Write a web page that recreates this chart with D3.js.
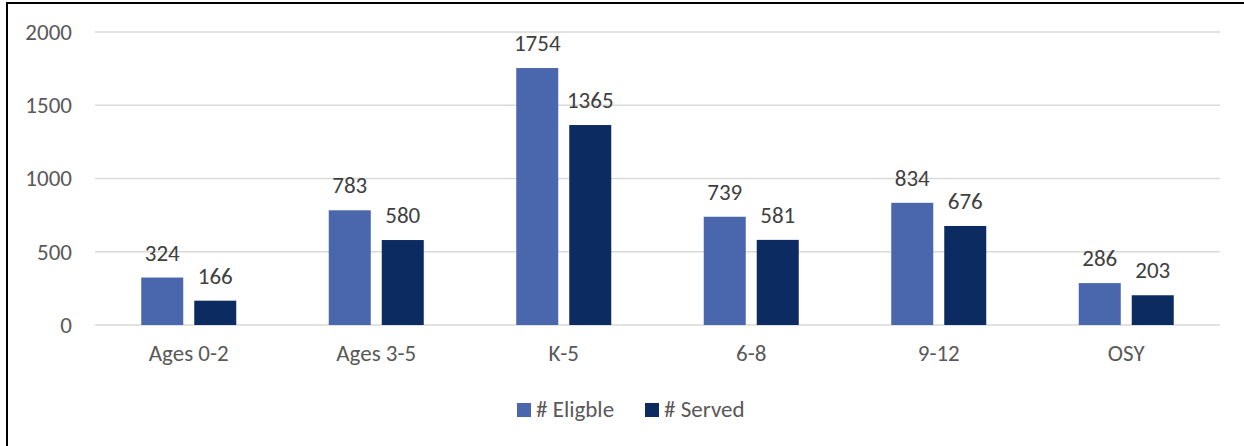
<!DOCTYPE html>
<html>
<head>
<meta charset="utf-8">
<script src="https://cdn.jsdelivr.net/npm/d3@7"></script>
<style>
  html, body { margin: 0; padding: 0; background: #fff; }
  svg { display: block; font-family: Calibri, Carlito, Lato, "Open Sans", sans-serif; }
</style>
</head>
<body>
<svg id="chart" width="1244" height="446"></svg>
<script>
// Student counts by grade group
const categories = ["Ages 0-2", "Ages 3-5", "K-5", "6-8", "9-12", "OSY"];
const seriesNames = ["# Eligble", "# Served"];
const eligible = [324, 783, 1754, 739, 834, 286];
const served = [166, 580, 1365, 581, 676, 203];
const yTicks = [0, 500, 1000, 1500, 2000];

const colors = ["#4a66ad", "#0b2b61"];
const series = [eligible, served];
const FS = 23;

const svg = d3.select("#chart");
const W = 1244, H = 446;
const margin = { left: 95, right: 24, top: 32, bottom: 121 };
const innerW = W - margin.left - margin.right;
const innerH = H - margin.top - margin.bottom;

// frame lines along top and left
svg.append("line").attr("x1", 7).attr("x2", W).attr("y1", 3).attr("y2", 3)
  .attr("stroke", "#000").attr("stroke-width", 2);
svg.append("line").attr("x1", 7).attr("x2", 7).attr("y1", 2).attr("y2", H)
  .attr("stroke", "#000").attr("stroke-width", 2);

const g = svg.append("g").attr("transform", `translate(${margin.left},${margin.top})`);

const x0 = d3.scaleBand().domain(categories).range([0, innerW]).paddingInner(0).paddingOuter(0);
const barW = 42, gap = 11;
const x1 = d3.scaleOrdinal().domain([0, 1]).range([-(barW + gap / 2), gap / 2]);
const y = d3.scaleLinear().domain([0, 2000]).range([innerH, 0]);

// gridlines
g.append("g").selectAll("line").data(yTicks).join("line")
  .attr("x1", 0).attr("x2", innerW)
  .attr("y1", d => y(d)).attr("y2", d => y(d))
  .attr("stroke", "#d9d9d9").attr("stroke-width", 1.5);

// y axis labels
const yAxis = d3.axisLeft(y).tickValues(yTicks).tickFormat(d3.format("d")).tickSize(0).tickPadding(23);
const ya = g.append("g").call(yAxis);
ya.select(".domain").remove();
ya.selectAll("text").attr("font-size", FS).attr("fill", "#595959")
  .attr("font-family", "Calibri, Carlito, Lato, sans-serif");

// x axis labels
const xAxis = d3.axisBottom(x0).tickSize(0).tickPadding(20);
const xa = g.append("g").attr("transform", `translate(0,${innerH})`).call(xAxis);
xa.select(".domain").remove();
xa.selectAll("text").attr("font-size", FS).attr("fill", "#595959")
  .attr("font-family", "Calibri, Carlito, Lato, sans-serif");

// bars and value labels
series.forEach((vals, si) => {
  const grp = g.append("g");
  grp.selectAll("rect").data(vals).join("rect")
    .attr("x", (d, i) => x0(categories[i]) + x0.bandwidth() / 2 + x1(si))
    .attr("y", d => y(d))
    .attr("width", barW)
    .attr("height", d => innerH - y(d))
    .attr("fill", colors[si]);
  grp.selectAll("text").data(vals).join("text")
    .attr("x", (d, i) => x0(categories[i]) + x0.bandwidth() / 2 + x1(si) + barW / 2)
    .attr("y", d => y(d) - 17)
    .attr("text-anchor", "middle")
    .attr("font-size", FS)
    .attr("fill", "#404040")
    .text(d => d);
});

// legend
const legend = svg.append("g");
const legendX = [517, 645];
seriesNames.forEach((name, i) => {
  legend.append("rect").attr("x", legendX[i]).attr("y", 403)
    .attr("width", 14).attr("height", 14).attr("fill", colors[i]);
  legend.append("text").attr("x", legendX[i] + 19).attr("y", 417)
    .attr("font-size", FS).attr("fill", "#595959").text(name);
});
</script>
</body>
</html>
